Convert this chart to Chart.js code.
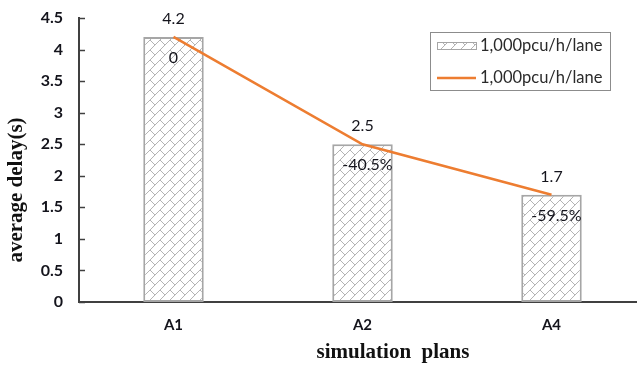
<!DOCTYPE html>
<html>
<head>
<meta charset="utf-8">
<script src="https://cdn.jsdelivr.net/npm/chart.js@4.4.1/dist/chart.umd.min.js"></script>
<style>
    html, body { margin: 0; padding: 0; background: #fff; overflow: hidden; }
    #wrap { position: relative; width: 646px; height: 366px; }
</style>
</head>
<body>
<div id="wrap"><canvas id="delayChart"></canvas></div>
<script>
// ─── Veriler ───
const plans = ['A1', 'A2', 'A4'];
const delayValues = [4.2, 2.5, 1.7];
const trendValues = [4.2, 2.5, 1.7];
const changeLabels = ['0', '-40.5%', '-59.5%'];
const yTicks = [0, 0.5, 1, 1.5, 2, 2.5, 3, 3.5, 4, 4.5];
const seriesLabel = '1,000pcu/h/lane';
const xTitle = 'simulation  plans';
const yTitle = 'average delay(s)';

const COLORS = {
    line: '#ED7D31',
    barBorder: '#a6a6a6',
    hatch: '#b4b4b4',
    axis: '#404040',
    text: '#14141c'
};

// Tuğla desenli tarama (bar dolgusu)
function makeHatch() {
    const s = 10;
    const c = document.createElement('canvas');
    c.width = s; c.height = s;
    const g = c.getContext('2d');
    g.fillStyle = '#fff';
    g.fillRect(0, 0, s, s);
    g.strokeStyle = COLORS.hatch;
    g.lineWidth = 1;
    g.beginPath();
    g.moveTo(-1, s + 1); g.lineTo(s + 1, -1);
    g.moveTo(0, 0); g.lineTo(s / 2, s / 2);
    g.stroke();
    return g.createPattern(c, 'repeat');
}
const hatch = makeHatch();

// Etiketler, iç tikler, başlıklar ve lejant
const decorPlugin = {
    id: 'decor',
    afterDraw(chart) {
        const ctx = chart.ctx;
        const y = chart.scales.y;
        const area = chart.chartArea;
        ctx.save();

        // y ekseni iç tikleri
        ctx.strokeStyle = COLORS.axis;
        ctx.lineWidth = 1.5;
        yTicks.forEach(v => {
            const py = Math.round(y.getPixelForValue(v)) + 0.5;
            ctx.beginPath();
            ctx.moveTo(area.left, py);
            ctx.lineTo(area.left + 6, py);
            ctx.stroke();
        });

        // değer etiketleri
        const bars = chart.getDatasetMeta(1).data;
        ctx.fillStyle = COLORS.text;
        ctx.font = '16px Lato';
        ctx.textAlign = 'center';
        ctx.textBaseline = 'middle';
        bars.forEach((bar, i) => {
            ctx.fillText(String(delayValues[i]), bar.x, bar.y - 18);
            ctx.fillText(changeLabels[i], bar.x + (i ? 5 : 0), bar.y + 21);
        });

        // eksen başlıkları
        ctx.font = 'bold 21px "Liberation Serif"';
        ctx.fillStyle = '#111';
        ctx.fillText(xTitle, 393, 353);
        ctx.save();
        ctx.translate(17, 190);
        ctx.rotate(-Math.PI / 2);
        ctx.fillText(yTitle, 0, 0);
        ctx.restore();

        // lejant
        const lx = 430, ly = 32, lw = 180, lh = 58;
        ctx.fillStyle = '#fff';
        ctx.fillRect(lx, ly, lw, lh);
        ctx.strokeStyle = '#8c8c8c';
        ctx.lineWidth = 1;
        ctx.strokeRect(lx + 0.5, ly + 0.5, lw, lh);

        ctx.fillStyle = hatch;
        ctx.fillRect(437, 42, 39, 7);
        ctx.strokeStyle = COLORS.barBorder;
        ctx.strokeRect(437.5, 42.5, 39, 7);

        ctx.strokeStyle = COLORS.line;
        ctx.lineWidth = 2.5;
        ctx.beginPath();
        ctx.moveTo(437, 78);
        ctx.lineTo(476, 78);
        ctx.stroke();

        ctx.fillStyle = '#2a2a2a';
        ctx.font = '16.5px Lato';
        ctx.textAlign = 'left';
        ctx.fillText(chart.data.datasets[1].label, 480, 46);
        ctx.fillText(chart.data.datasets[0].label, 480, 78);

        ctx.restore();
    }
};

new Chart(document.getElementById('delayChart'), {
    data: {
        labels: plans,
        datasets: [
            {
                type: 'line',
                label: seriesLabel,
                data: trendValues,
                borderColor: COLORS.line,
                borderWidth: 2.5,
                pointRadius: 0,
                tension: 0,
                order: 0
            },
            {
                type: 'bar',
                label: seriesLabel,
                data: delayValues,
                backgroundColor: hatch,
                borderColor: COLORS.barBorder,
                borderWidth: 2,
                borderSkipped: false,
                categoryPercentage: 1,
                barPercentage: 0.32,
                order: 1
            }
        ]
    },
    options: {
        responsive: true,
        maintainAspectRatio: false,
        animation: false,
        layout: { padding: { left: 0, top: 18, right: 0, bottom: 0 } },
        plugins: {
            legend: { display: false },
            tooltip: { enabled: false }
        },
        scales: {
            x: {
                grid: { display: false, drawTicks: false },
                border: { display: true, color: COLORS.axis, width: 2 },
                ticks: { color: COLORS.text, font: { family: 'Lato', size: 15, weight: 'bold' }, padding: 14 },
                afterFit(scale) {
                    scale.height = 64;
                    scale.paddingLeft = 0;
                    scale.paddingRight = 0;
                }
            },
            y: {
                min: 0,
                max: 4.5,
                grid: { display: false, drawTicks: false },
                border: { display: true, color: COLORS.axis, width: 2 },
                afterBuildTicks(scale) { scale.ticks = yTicks.map(v => ({ value: v })); },
                ticks: {
                    color: COLORS.text,
                    font: { family: 'Lato', size: 16, weight: 'bold' },
                    padding: 16,
                    callback: v => String(v)
                },
                afterFit(scale) {
                    scale.width = 79;
                    scale.paddingTop = 0;
                    scale.paddingBottom = 0;
                }
            }
        }
    },
    plugins: [decorPlugin]
});
</script>
</body>
</html>
